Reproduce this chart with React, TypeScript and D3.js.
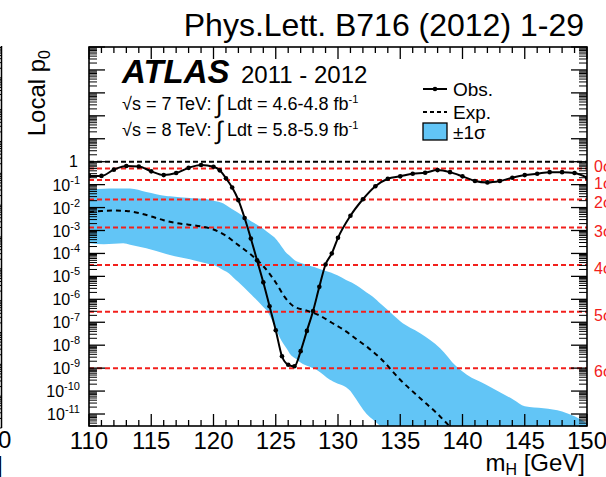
import React from "react";
import * as d3 from "d3";

// ---------- data ----------
const obsMass = [110, 111, 112, 113, 114, 115, 116, 117, 118, 119, 120, 120.5, 121, 121.5, 122, 122.5, 123, 123.5, 124, 124.5, 125, 125.5, 126, 126.5, 127, 127.5, 128, 128.5, 129, 129.5, 130, 131, 132, 133, 134, 135, 136, 137, 138, 139, 140, 141, 142, 143, 144, 145, 146, 147, 148, 149, 150];
const obsP0 = [0.24, 0.24, 0.45, 0.65, 0.62, 0.38, 0.26, 0.32, 0.54, 0.72, 0.6, 0.42, 0.19, 0.075, 0.021, 3.5e-3, 4.5e-4, 5e-5, 5.5e-6, 5e-7, 4.5e-8, 3.3e-9, 1.4e-9, 1.2e-9, 5.5e-9, 4.2e-8, 3.1e-7, 3.5e-6, 3.3e-5, 1e-4, 4.8e-4, 4.4e-3, 0.023, 0.085, 0.18, 0.23, 0.3, 0.33, 0.43, 0.35, 0.23, 0.145, 0.125, 0.145, 0.2, 0.26, 0.3, 0.35, 0.35, 0.32, 0.2];

const expMass = [110, 111, 112, 113, 114, 115, 116, 117, 118, 119, 120, 121, 122, 123, 124, 125, 125.7, 126.4, 127.5, 128.5, 129.5, 130.5, 131.5, 132.5, 133.5, 135, 136.6, 138, 139, 140];
const expP0 = [6.3e-3, 7.1e-3, 7.4e-3, 7.1e-3, 5.8e-3, 4.1e-3, 2.8e-3, 2.1e-3, 1.8e-3, 1.5e-3, 1.1e-3, 5.9e-4, 2.3e-4, 8.9e-5, 2.8e-5, 5.4e-6, 1.3e-6, 5.1e-7, 3.2e-7, 2e-7, 9.5e-8, 4.5e-8, 1.8e-8, 7.1e-9, 2.4e-9, 3.1e-10, 4.9e-11, 1e-11, 2.8e-12, 8e-13];

const bandHiMass = [110, 112, 113.3, 114.6, 116.2, 118.1, 119.7, 120.8, 121.85, 122.9, 124, 125.1, 125.9, 126.7, 128, 129.6, 131.2, 132.8, 135, 136.6, 138.2, 139.5, 140.35, 141.9, 144.1, 145, 146.5, 148, 149, 150];
const bandHiP0 = [6.3e-2, 6.8e-2, 6.8e-2, 4.8e-2, 3.2e-2, 2.6e-2, 2.2e-2, 1.5e-2, 6.5e-3, 2.8e-3, 1.2e-3, 3.8e-4, 1e-4, 4.4e-5, 2.6e-5, 1.35e-5, 5e-6, 1.3e-6, 1.1e-7, 3.3e-8, 7.4e-9, 1.2e-9, 5.1e-10, 1.9e-10, 4.2e-11, 2.2e-11, 1.8e-11, 1.3e-11, 7.9e-12, 4e-12];

const bandLoMass = [110, 111.2, 112.75, 114.6, 116.5, 118.4, 120, 121.05, 122.1, 123.2, 124.25, 125.3, 126.1, 126.9, 128.3, 129.35, 131, 132.3, 133.45, 134.5, 150];
const bandLoP0 = [2.8e-4, 2.5e-4, 2.8e-4, 1.7e-4, 8.5e-5, 5.1e-5, 3.1e-5, 1.6e-5, 5e-6, 1.3e-6, 3.4e-7, 2.3e-8, 4.5e-9, 1.9e-9, 8.3e-10, 3.1e-10, 1e-10, 1e-11, 2.8e-12, 6e-13, 1e-14];

const sigmaLabels = ["0σ", "1σ", "2σ", "3σ", "4σ", "5σ", "6σ"];
const sigmaP0 = [0.5, 0.1587, 0.02275, 1.35e-3, 3.17e-5, 2.87e-7, 9.87e-10];

const xMajorTicks = [110, 115, 120, 125, 130, 135, 140, 145, 150];
const yLabelExponents = [0, -1, -2, -3, -4, -5, -6, -7, -8, -9, -10, -11];

const BAND = "#62c5f6";
const RED = "#f2201c";
const FONT = "'Liberation Sans', Arial, Helvetica, sans-serif";

function interpLog(ms: number[], ps: number[], m: number): number {
  if (m <= ms[0]) return ps[0];
  for (let i = 1; i < ms.length; i++) {
    if (m <= ms[i]) {
      const t = (m - ms[i - 1]) / (ms[i] - ms[i - 1]);
      return Math.pow(10, Math.log10(ps[i - 1]) + t * (Math.log10(ps[i]) - Math.log10(ps[i - 1])));
    }
  }
  return ps[ps.length - 1];
}

export default function App() {
  const W = 606, H = 477;
  const x0 = 89, x1 = 587, y0 = 47, y1 = 426;
  const x = d3.scaleLinear().domain([110, 150]).range([x0, x1]);
  const y = d3.scaleLog().domain([3e-12, 1e5]).range([y1, y0]);

  const line = d3.line<[number, number]>().x(d => x(d[0])).y(d => y(d[1])).curve(d3.curveMonotoneX);
  const obsPts: [number, number][] = obsMass.map((m, i) => [m, obsP0[i]]);
  const expPts: [number, number][] = expMass.map((m, i) => [m, expP0[i]]);

  const area = d3.area<number>()
    .x(m => x(m))
    .y0(m => y(interpLog(bandLoMass, bandLoP0, m)))
    .y1(m => y(interpLog(bandHiMass, bandHiP0, m)))
    .curve(d3.curveMonotoneX);
  const allMass = Array.from(new Set([...bandHiMass, ...bandLoMass])).sort((a, b) => a - b);
  const bandPath = area(allMass) || "";

  // log ticks
  const majorY: number[] = [];
  const minorY: number[] = [];
  for (let k = -12; k <= 5; k++) {
    for (let j = 1; j <= 9; j++) {
      const v = j * Math.pow(10, k);
      if (v < 3e-12 || v > 1e5) continue;
      if (j === 1) majorY.push(v); else minorY.push(v);
    }
  }
  const minorX = d3.range(110, 151, 1).filter(v => v % 5 !== 0);

  // adjacent panel remnant ticks
  const yAdj = d3.scaleLog().domain([1e-7, 1e5]).range([428, 46]);
  const adjTicks: number[] = [];
  for (let k = -7; k <= 4; k++) for (let j = 1; j <= 9; j += 1) adjTicks.push(j * Math.pow(10, k));

  return (
    <svg width={W} height={H} style={{ display: "block", position: "absolute", left: 0, top: 0, background: "#fff" }} fontFamily={FONT}>
      <defs>
        <clipPath id="plotclip"><rect x={x0} y={y0} width={x1 - x0} height={y1 - y0} /></clipPath>
      </defs>
      <rect x={0} y={0} width={W} height={H} fill="#fff" />

      {/* adjacent panel remnants */}
      <line x1={1.5} x2={1.5} y1={46} y2={428} stroke="#000" strokeWidth={1.5} />
      {adjTicks.map((t, i) => (
        <line key={"adj" + i} x1={0} x2={1.5} y1={yAdj(t)} y2={yAdj(t)} stroke="#000" strokeWidth={1} />
      ))}
      <text x={-2} y={448} fontSize={24}>0</text>
      <text x={-4} y={473} fontSize={24}>]</text>

      {/* title */}
      <text x={584} y={36} fontSize={32} textAnchor="end">Phys.Lett. B716 (2012) 1-29</text>

      {/* band, reference lines, curves */}
      <g clipPath="url(#plotclip)">
        <path d={bandPath} fill={BAND} stroke="none" />
        <line x1={x0} x2={x1} y1={y(1)} y2={y(1)} stroke="#000" strokeWidth={2} strokeDasharray="5,3" />
        {sigmaP0.map((p, i) => (
          <line key={"s" + i} x1={x0} x2={x1} y1={y(p)} y2={y(p)} stroke={RED} strokeWidth={2} strokeDasharray="5,3" />
        ))}
        <path d={line(expPts) || ""} fill="none" stroke="#000" strokeWidth={2} strokeDasharray="5,4" />
        <path d={line(obsPts) || ""} fill="none" stroke="#000" strokeWidth={2} />
        {obsPts.map((d, i) => (
          <circle key={"o" + i} cx={x(d[0])} cy={y(d[1])} r={2.3} fill="#000" />
        ))}
      </g>

      {/* sigma labels */}
      {sigmaP0.map((p, i) => (
        <text key={"sl" + i} x={594} y={y(p) + (i === 0 ? 3 : 9)} fontSize={16} fill={RED}>{sigmaLabels[i]}</text>
      ))}

      {/* frame */}
      <rect x={x0} y={y0} width={x1 - x0} height={y1 - y0} fill="none" stroke="#000" strokeWidth={1.6} />

      {/* x ticks */}
      {xMajorTicks.map((t, i) => (
        <g key={"xm" + i}>
          <line x1={x(t)} x2={x(t)} y1={y1} y2={y1 - 12} stroke="#000" strokeWidth={1.3} />
          <line x1={x(t)} x2={x(t)} y1={y0} y2={y0 + 12} stroke="#000" strokeWidth={1.3} />
          <text x={x(t)} y={449} fontSize={24} textAnchor="middle">{t}</text>
        </g>
      ))}
      {minorX.map((t, i) => (
        <g key={"xn" + i}>
          <line x1={x(t)} x2={x(t)} y1={y1} y2={y1 - 6} stroke="#000" strokeWidth={1.3} />
          <line x1={x(t)} x2={x(t)} y1={y0} y2={y0 + 6} stroke="#000" strokeWidth={1.3} />
        </g>
      ))}

      {/* y ticks */}
      {majorY.map((t, i) => (
        <g key={"ym" + i}>
          <line x1={x0} x2={x0 + 16} y1={y(t)} y2={y(t)} stroke="#000" strokeWidth={1.3} />
          <line x1={x1} x2={x1 - 16} y1={y(t)} y2={y(t)} stroke="#000" strokeWidth={1.3} />
        </g>
      ))}
      {minorY.map((t, i) => (
        <g key={"yn" + i}>
          <line x1={x0} x2={x0 + 8} y1={y(t)} y2={y(t)} stroke="#000" strokeWidth={1} />
          <line x1={x1} x2={x1 - 8} y1={y(t)} y2={y(t)} stroke="#000" strokeWidth={1} />
        </g>
      ))}

      {/* y labels */}
      {yLabelExponents.map((k, i) => (
        k === 0 ? (
          <text key={"yl" + i} x={78} y={y(1) + 5} fontSize={16} textAnchor="end">1</text>
        ) : (
          <text key={"yl" + i} x={80} y={y(Math.pow(10, k)) + 6} fontSize={16} textAnchor="end">
            <tspan>10</tspan>
            <tspan dy={-7} fontSize={11}>{String(k)}</tspan>
          </text>
        )
      ))}

      {/* axis titles */}
      <text transform="translate(45,50) rotate(-90)" fontSize={24} textAnchor="end">
        <tspan>Local p</tspan>
        <tspan dy={5} fontSize={16}>0</tspan>
      </text>
      <text x={585} y={471} fontSize={24} textAnchor="end">
        <tspan>m</tspan>
        <tspan dy={4} fontSize={16}>H</tspan>
        <tspan dy={-4}> [GeV]</tspan>
      </text>

      {/* ATLAS labels */}
      <text x={122} y={83} fontSize={33} fontWeight="bold" fontStyle="italic">ATLAS</text>
      <text x={241} y={83} fontSize={24}>2011 - 2012</text>
      {[{ e: "7", l: "4.6-4.8", yy: 110 }, { e: "8", l: "5.8-5.9", yy: 136 }].map((r, i) => (
        <g key={"lum" + i}>
          <text x={122} y={r.yy} fontSize={18}>{"√s = " + r.e + " TeV:"}</text>
          <text x={216} y={r.yy + 3} fontSize={25}>∫</text>
          <text x={227} y={r.yy} fontSize={18}>
            <tspan>{"Ldt = " + r.l + " fb"}</tspan>
            <tspan dy={-7} fontSize={11}>-1</tspan>
          </text>
        </g>
      ))}

      {/* legend */}
      <line x1={423} x2={447} y1={89} y2={89} stroke="#000" strokeWidth={2} />
      <circle cx={435} cy={89} r={2.3} fill="#000" />
      <text x={453} y={96} fontSize={19}>Obs.</text>
      <line x1={423} x2={447} y1={112} y2={112} stroke="#000" strokeWidth={2} strokeDasharray="4,3" />
      <text x={453} y={119} fontSize={19}>Exp.</text>
      <rect x={423} y={123} width={24} height={17} fill={BAND} stroke="#000" strokeWidth={1.3} />
      <text x={453} y={139} fontSize={19}>±1σ</text>
    </svg>
  );
}
